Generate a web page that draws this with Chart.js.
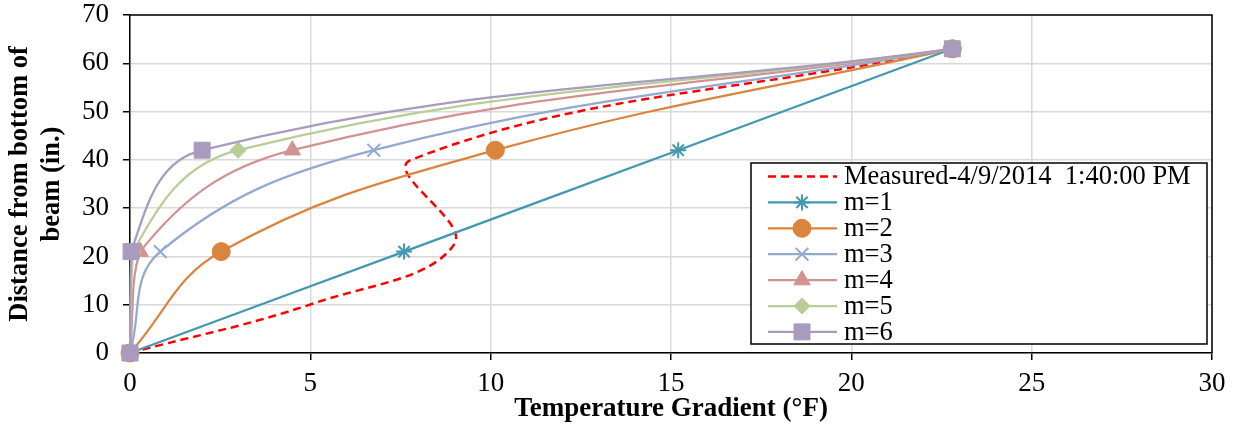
<!DOCTYPE html>
<html><head><meta charset="utf-8">
<style>html,body{margin:0;padding:0;background:#fff;}#wrap{width:1241px;height:425px;position:relative;}</style>
<script src="https://cdn.jsdelivr.net/npm/chart.js@4.4.1/dist/chart.umd.min.js"></script>
</head><body><div id="wrap"><canvas id="c" width="1241" height="425"></canvas></div>
<script>
// Data
const heights = [0, 21, 42, 63];                 // distance from bottom of beam (in.)
const measuredX = [0, 5.1, 9.0, 7.8, 22.8];
const measuredY = [0, 10.3, 22.6, 40, 63];
const m1 = [0, 7.6, 15.2, 22.8];
const m2 = [0, 2.53, 10.13, 22.8];
const m3 = [0, 0.84, 6.76, 22.8];
const m4 = [0, 0.28, 4.5, 22.8];
const m5 = [0, 0.09, 3.0, 22.8];
const m6 = [0, 0.03, 2.0, 22.8];
const seriesNames = ['Measured-4/9/2014  1:40:00 PM', 'm=1', 'm=2', 'm=3', 'm=4', 'm=5', 'm=6'];
const xTickValues = [0, 5, 10, 15, 20, 25, 30];
const yTickValues = [0, 10, 20, 30, 40, 50, 60, 70];
const xTitle = 'Temperature Gradient (°F)';
const yTitle = ['Distance from bottom of', 'beam (in.)'];

const FONT = "'Liberation Serif', 'Times New Roman', serif";
const toPts = (xs, ys) => xs.map((x, i) => ({x: x, y: ys[i]}));

const styles = [
  {color: '#FF0000', style: false, r: 0, bw: 2.5, dash: [8, 5], t: 0.4},
  {color: '#4198AF', style: 'star', r: 8, bw: 2, t: 0.4},
  {color: '#DB843D', style: 'circle', r: 9, bw: 1, t: 0.4},
  {color: '#93A9CF', style: 'crossRot', r: 9, bw: 2, t: 0.4},
  {color: '#D19392', style: 'triangle', r: 9.5, bw: 1, t: 0.4},
  {color: '#B9CD96', style: 'rectRot', r: 8, bw: 1, t: 0.4},
  {color: '#A99BBD', style: 'rect', r: 11.3, bw: 1, t: 0.4}
];
const seriesX = [measuredX, m1, m2, m3, m4, m5, m6];
const seriesY = [measuredY, heights, heights, heights, heights, heights, heights];

const datasets = seriesNames.map((name, i) => {
  const s = styles[i];
  return {
    label: name,
    data: toPts(seriesX[i], seriesY[i]),
    borderColor: s.color,
    backgroundColor: s.color,
    borderWidth: i === 0 ? 2.5 : 2.25,
    borderDash: s.dash || [],
    pointStyle: s.style,
    pointRadius: s.r,
    pointBorderWidth: s.bw,
    pointBackgroundColor: s.color,
    pointBorderColor: s.color,
    pointHoverRadius: s.r,
    tension: s.t,
    clip: false,
    order: 6 - i
  };
});

const plotBorder = {
  id: 'plotBorder',
  afterDraw(chart) {
    const {ctx, chartArea: a} = chart;
    ctx.save();
    ctx.strokeStyle = '#000';
    ctx.lineWidth = 1.5;
    ctx.beginPath();
    ctx.moveTo(a.left, a.top); ctx.lineTo(a.right, a.top); ctx.lineTo(a.right, a.bottom);
    ctx.stroke();
    ctx.restore();
  }
};

const boxLegend = {
  id: 'boxLegend',
  afterDraw(chart) {
    const ctx = chart.ctx;
    const L = 751, T = 163, R = 1207, B = 344;
    ctx.save();
    ctx.fillStyle = '#fff';
    ctx.fillRect(L, T, R - L, B - T);
    ctx.strokeStyle = '#000';
    ctx.lineWidth = 1.5;
    ctx.strokeRect(L, T, R - L, B - T);
    ctx.font = '26.5px ' + FONT;
    ctx.textBaseline = 'middle';
    ctx.textAlign = 'left';
    chart.data.datasets.forEach((ds, i) => {
      const y = 176.5 + i * 25.9;
      ctx.save();
      ctx.strokeStyle = ds.borderColor;
      ctx.lineWidth = ds.borderWidth;
      ctx.setLineDash(ds.borderDash || []);
      ctx.beginPath();
      ctx.moveTo(768, y); ctx.lineTo(837, y);
      ctx.stroke();
      ctx.restore();
      if (ds.pointStyle) {
        ctx.save();
        ctx.fillStyle = ds.pointBackgroundColor;
        ctx.strokeStyle = ds.pointBorderColor;
        ctx.lineWidth = ds.pointBorderWidth;
        Chart.helpers.drawPoint(ctx, {pointStyle: ds.pointStyle, radius: ds.pointRadius, borderWidth: ds.pointBorderWidth, rotation: 0}, 802, y);
        ctx.restore();
      }
      ctx.fillStyle = '#000';
      ctx.fillText(ds.label, 844, y + 1);
    });
    ctx.restore();
  }
};

new Chart(document.getElementById('c'), {
  type: 'line',
  data: {datasets: datasets},
  plugins: [plotBorder, boxLegend],
  options: {
    responsive: false,
    devicePixelRatio: 1,
    animation: false,
    events: [],
    layout: {padding: {top: 15, right: 29, left: 0, bottom: 0}},
    plugins: {legend: {display: false}, tooltip: {enabled: false}},
    scales: {
      x: {
        type: 'linear', min: 0, max: 30,
        afterBuildTicks: s => { s.ticks = xTickValues.map(v => ({value: v})); },
        afterFit: s => { s.height = 72; s.paddingLeft = 0; s.paddingRight = 0; },
        ticks: {color: '#000', font: {family: FONT, size: 27}, padding: 8, maxRotation: 0},
        grid: {color: '#d9d9d9', lineWidth: 1.5, tickLength: 7, tickColor: '#000', tickWidth: 1.5},
        border: {color: '#000', width: 1.5},
        title: {display: true, text: xTitle, color: '#000', font: {family: FONT, size: 27, weight: 'bold'}, padding: {top: 0, bottom: 0}}
      },
      y: {
        type: 'linear', min: 0, max: 70,
        afterBuildTicks: s => { s.ticks = yTickValues.map(v => ({value: v})); },
        afterFit: s => { s.width = 130; s.paddingTop = 0; s.paddingBottom = 0; },
        ticks: {color: '#000', font: {family: FONT, size: 27}, padding: 14},
        grid: {color: '#d9d9d9', lineWidth: 1.5, tickLength: 7, tickColor: '#000', tickWidth: 1.5},
        border: {color: '#000', width: 1.5},
        title: {display: true, text: yTitle, color: '#000', font: {family: FONT, size: 26.5, weight: 'bold', lineHeight: 1.2}, padding: {top: 4, bottom: 0}}
      }
    }
  }
});
</script></body></html>
